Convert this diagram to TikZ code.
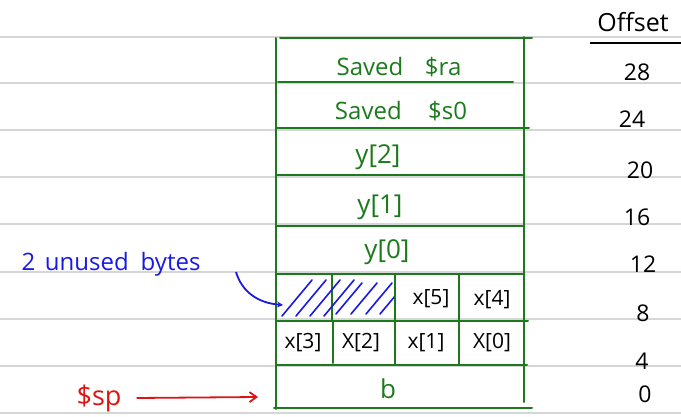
\documentclass[tikz,border=0pt]{standalone}
\usepackage{fontspec}
\setmainfont{Open Sans}
\usetikzlibrary{arrows.meta}
\definecolor{pen}{RGB}{28,122,28}
\definecolor{ink}{RGB}{25,25,230}
\definecolor{redink}{RGB}{222,20,20}
\definecolor{rulegray}{RGB}{214,214,214}
\begin{document}
\begin{tikzpicture}[x=1pt,y=-1pt,
  ruleline/.style={rulegray, line width=1.5pt},
  gridline/.style={pen, line width=2pt, line cap=round},
  gtext/.style={pen, font=\fontsize{24}{28}\selectfont, inner sep=0pt},
  ytext/.style={pen, font=\fontsize{26}{30}\selectfont, inner sep=0pt},
  ktext/.style={black, font=\fontsize{21}{24}\selectfont, inner sep=0pt},
  otext/.style={black, font=\fontsize{23}{26}\selectfont, inner sep=0pt},
  hatch/.style={ink, line width=1.6pt, line cap=round}]
\useasboundingbox (0,0) rectangle (681,417);
% notebook rules
\foreach \y in {37,83,130,177,224,272,319,366,413}
  \draw[ruleline] (0,\y) -- (681,\y);
% frame
\draw[gridline] (276,38) -- (276,409);
\draw[gridline] (524,37) -- (524,402);
\draw[gridline] (280,38) -- (532,38);
\draw[gridline] (278,82) -- (513,82);
\draw[gridline] (276,128) -- (529,128);
\draw[gridline] (276,175) -- (524,175);
\draw[gridline] (276,226) -- (524,226);
\draw[gridline] (276,274) -- (524,274);
\draw[gridline] (276,321) -- (528,321);
\draw[gridline] (276,365) -- (527,365);
\draw[gridline] (274,408) -- (532,408);
% cell dividers
\draw[gridline] (332,274) -- (332,321);
\draw[gridline] (395,274) -- (395,321);
\draw[gridline] (459,274) -- (459,321);
\draw[gridline] (333,321) -- (333,363);
\draw[gridline] (395,321) -- (395,365);
\draw[gridline] (459,321) -- (459,365);
% hatching (unused bytes)
\begin{scope}
  \clip (277,275) rectangle (394,320);
  \foreach \x in {282,296,310,324} \draw[hatch] (\x,316) -- (\x+30,280);
  \foreach \x in {336,351,366,380} \draw[hatch] (\x,314) -- (\x+26,283);
\end{scope}
% texts in frame
\node[gtext] (ra) at (399,67) {Saved\hspace{0.9em}\$ra};
\node[gtext] (s0) at (401,111) {Saved\hspace{1.1em}\$s0};
\node[ytext] (y2) at (378,157) {y[2]};
\node[ytext] (y1) at (380,207) {y[1]};
\node[ytext] (y0) at (387,252) {y[0]};
\node[ktext] (x5) at (431,299) {x[5]};
\node[ktext] (x4) at (492,300) {x[4]};
\node[ktext] (x3) at (303,343) {x[3]};
\node[ktext] (x2) at (361,343) {X[2]};
\node[ktext] (x1) at (426,343) {x[1]};
\node[ktext] (x0) at (492,343) {X[0]};
\node[ytext] (b) at (388,389) {b};
% offsets
\node[black, font=\fontsize{25}{28}\selectfont, inner sep=0pt] (off) at (633,22) {Offset};
\draw[black, line width=1.8pt] (590,43) -- (681,43);
\node[otext] (o28) at (637,72) {28};
\node[otext] (o24) at (632,119) {24};
\node[otext] (o20) at (640,170) {20};
\node[otext] (o16) at (637,217) {16};
\node[otext] (o12) at (643,264) {12};
\node[otext] (o8) at (643,313) {8};
\node[otext] (o4) at (642,361) {4};
\node[otext] (o0) at (645,394) {0};
% annotation: unused bytes
\node[ink, font=\fontsize{24}{28}\selectfont, inner sep=0pt] (unused) at (111,264) {2\hspace{0.4em}unused\hspace{0.5em}bytes};
\coordinate (ustart) at (236,272);
\coordinate (uend) at (283,305);
\draw[ink, line width=1.8pt, -{Stealth[length=6pt,width=6pt]}] (ustart) .. controls (242,292) and (258,303) .. (uend);
% $sp
\node[redink, font=\fontsize{27}{30}\selectfont, inner sep=0pt] (sp) at (99,398) {\$sp};
\coordinate (spend) at (258,397);
\draw[redink, line width=1.8pt, -{Straight Barb[length=7pt,width=10pt]}] (sp.east) ++(15,0) -- (spend);
\end{tikzpicture}
\end{document}
